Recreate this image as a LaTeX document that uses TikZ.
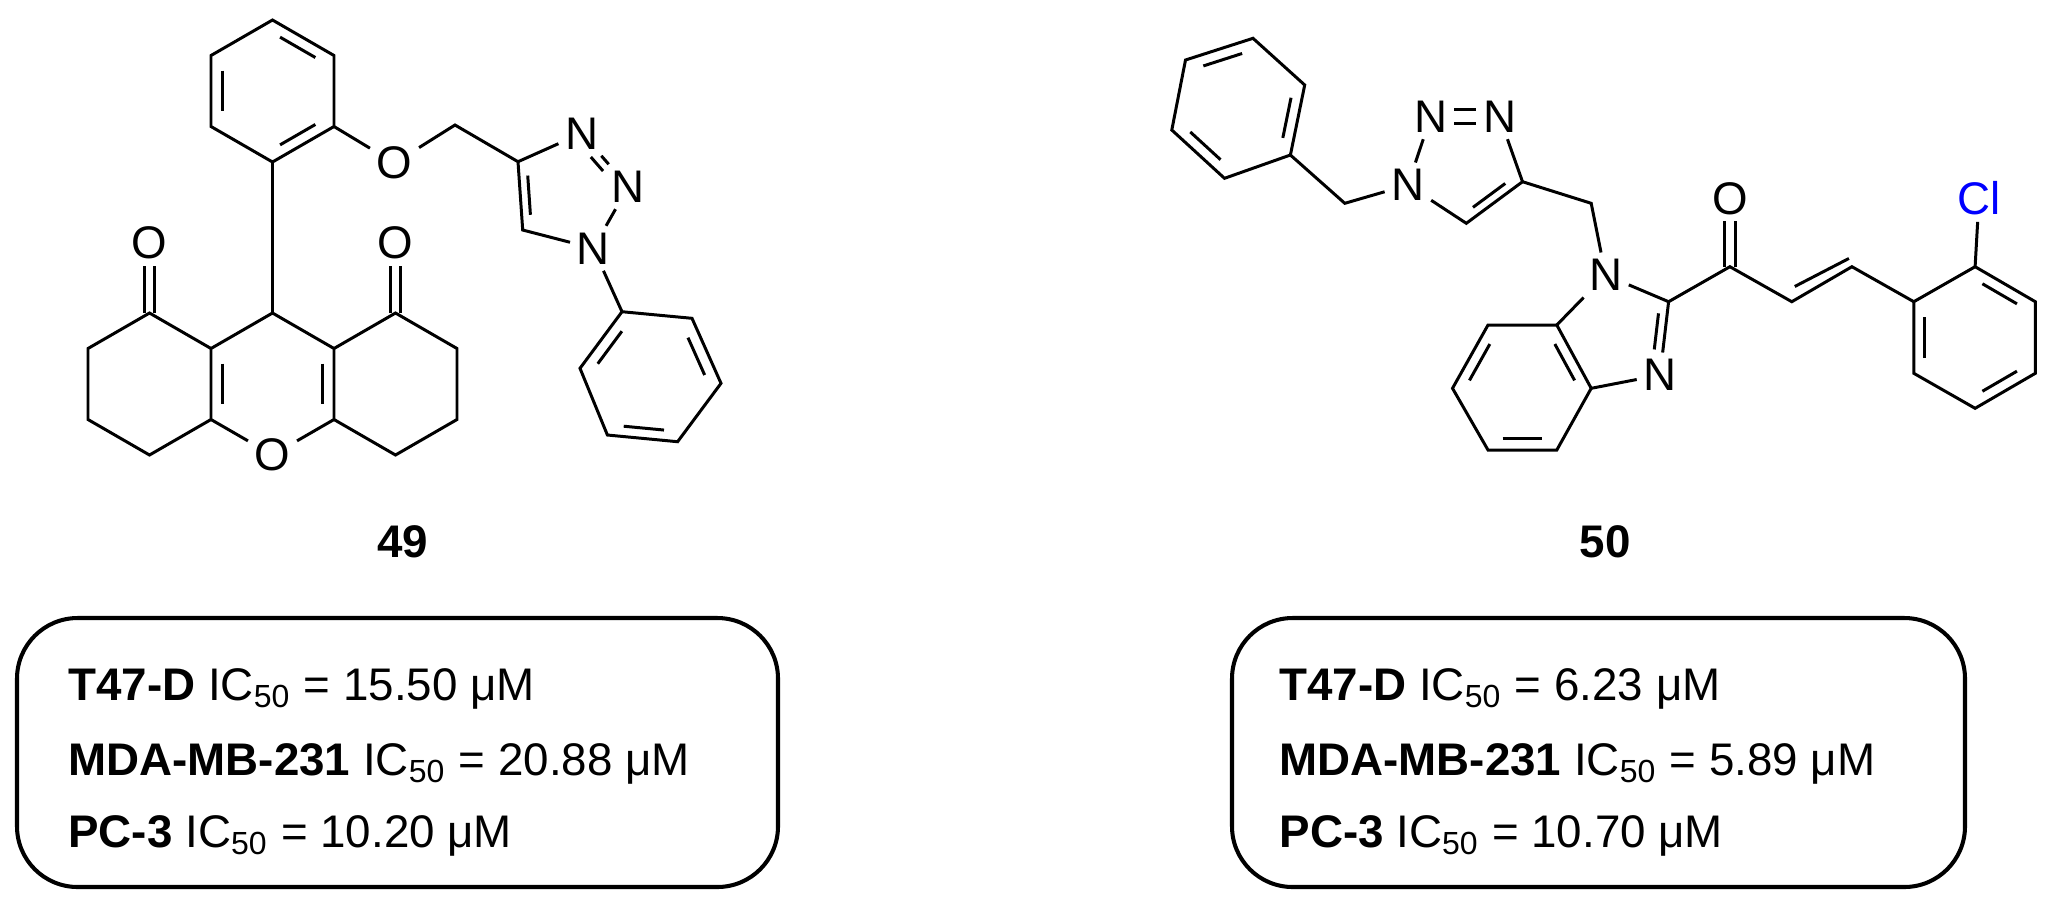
\documentclass[tikz,border=0pt]{standalone}
\usepackage{fontspec}
\setmainfont{Liberation Sans}
\usetikzlibrary{calc}
\newcommand\inbond[5]{\draw ($($(#1)!#4!(#2)$)!0.18!(#3)$) -- ($($(#1)!#5!(#2)$)!0.18!(#3)$);}
\begin{document}
\begin{tikzpicture}[x=0.01cm,y=-0.01cm,line width=0.85pt,
  atom/.style={inner sep=1.5pt,font=\fontsize{13}{15}\selectfont},
  cmpd/.style={font=\fontsize{13}{15}\selectfont\bfseries},
  row/.style={anchor=base west,inner sep=0pt,font=\fontsize{13}{15}\selectfont},
  databox/.style={line width=1.15pt,rounded corners=15\pgflinewidth}]
\useasboundingbox (0,0) rectangle (2057,902);
% ================= compound 49 =================
\coordinate (a9) at (272.5,313);
\coordinate (a9a) at (211,348.5);
\coordinate (a4a) at (211,419.5);
\node[atom] (aO) at (272.5,455) {O};
\coordinate (a10a) at (334,419.5);
\coordinate (a8a) at (334,348.5);
\coordinate (xc) at (272.5,384);
\coordinate (a1) at (149.5,313);
\coordinate (a2) at (88,348.5);
\coordinate (a3) at (88,419.5);
\coordinate (a4) at (149.5,455);
\node[atom] (aO1) at (149.5,243) {O};
\coordinate (a8) at (395.5,313);
\coordinate (a7) at (457,348.5);
\coordinate (a6) at (457,419.5);
\coordinate (a5) at (395.5,455);
\node[atom] (aO8) at (395.5,243) {O};
\coordinate (b1) at (272.5,162);
\coordinate (b2) at (211,126.5);
\coordinate (b3) at (211,55.5);
\coordinate (b4) at (272.5,20);
\coordinate (b5) at (334,55.5);
\coordinate (b6) at (334,126.5);
\coordinate (bc) at (272.5,91);
\node[atom] (aOe) at (394.5,163) {O};
\coordinate (ach2) at (455,125);
\coordinate (t4) at (518,161.7);
\node[atom] (tN3) at (581.7,133.3) {N};
\node[atom] (tN2) at (628.3,186.7) {N};
\node[atom] (tN1) at (593.3,248.3) {N};
\coordinate (t5) at (522.7,230);
\coordinate (tc) at (568.8,192);
\coordinate (p1) at (622,311.7);
\coordinate (p2) at (692,318.3);
\coordinate (p3) at (721,383.3);
\coordinate (p4) at (677.6,441.7);
\coordinate (p5) at (607.4,435);
\coordinate (p6) at (580,368.3);
\coordinate (pc) at (650,381.5);
% bonds
\draw (a9a) -- (a1) -- (a2) -- (a3) -- (a4) -- (a4a);
\draw (a9) -- (a9a) -- (a4a) -- (aO) -- (a10a) -- (a8a) -- (a9);
\draw (a8a) -- (a8) -- (a7) -- (a6) -- (a5) -- (a10a);
\inbond{a9a}{a4a}{xc}{0.15}{0.85}
\inbond{a8a}{a10a}{xc}{0.15}{0.85}
\draw ([xshift=-1.5pt]a1) -- ([xshift=-1.5pt]aO1.south);
\draw ([xshift=1.5pt]a1) -- ([xshift=1.5pt]aO1.south);
\draw ([xshift=-1.5pt]a8) -- ([xshift=-1.5pt]aO8.south);
\draw ([xshift=1.5pt]a8) -- ([xshift=1.5pt]aO8.south);
\draw (a9) -- (b1);
\draw (b1) -- (b2) -- (b3) -- (b4) -- (b5) -- (b6) -- cycle;
\inbond{b4}{b5}{bc}{0.15}{0.85}
\inbond{b3}{b2}{bc}{0.15}{0.85}
\inbond{b6}{b1}{bc}{0.15}{0.85}
\draw (b6) -- (aOe) -- (ach2) -- (t4) -- (tN3) -- (tN2) -- (tN1) -- (t5) -- (t4);
\inbond{t4}{t5}{tc}{0.15}{0.85}
\inbond{tN3}{tN2}{tc}{0.3}{0.62}
\draw (tN1) -- (p1);
\draw (p1) -- (p2) -- (p3) -- (p4) -- (p5) -- (p6) -- cycle;
\inbond{p2}{p3}{pc}{0.15}{0.85}
\inbond{p4}{p5}{pc}{0.15}{0.85}
\inbond{p6}{p1}{pc}{0.15}{0.85}
\node[cmpd] (l49) at (403,542) {49};
% ================= compound 50 =================
\coordinate (q1) at (1253,38.3);
\coordinate (q2) at (1304.7,85);
\coordinate (q3) at (1290.4,155);
\coordinate (q4) at (1224.5,178.3);
\coordinate (q5) at (1171.8,130);
\coordinate (q6) at (1185.5,60);
\coordinate (qc) at (1238.5,107.8);
\coordinate (m1) at (1344.8,203.3);
\node[atom] (uN1) at (1407.9,185) {N};
\node[atom] (uN2) at (1430.8,116.7) {N};
\node[atom] (uN3) at (1499.5,116.7) {N};
\coordinate (u4) at (1522.5,181.7);
\coordinate (u5) at (1466.3,223.3);
\coordinate (uc) at (1465,163);
\coordinate (m2) at (1591.2,203.3);
\node[atom] (iN1) at (1605.5,275) {N};
\coordinate (i2) at (1668.6,301.7);
\node[atom] (iN3) at (1660,375) {N};
\coordinate (i3a) at (1591.2,388.3);
\coordinate (i7a) at (1556.8,325);
\coordinate (ic) at (1616.4,333);
\coordinate (k1) at (1488,325);
\coordinate (k2) at (1452.5,388.3);
\coordinate (k3) at (1488,450);
\coordinate (k4) at (1556.8,450);
\coordinate (kc) at (1522.4,387.5);
\coordinate (co) at (1729.9,266.7);
\node[atom] (cO) at (1729.9,198.3) {O};
\coordinate (e1) at (1791.8,301.7);
\coordinate (e2) at (1851.9,266.7);
\coordinate (r1) at (1913.8,301.7);
\coordinate (r2) at (1975.1,266.7);
\coordinate (r3) at (2035.3,301.7);
\coordinate (r4) at (2035.3,373.3);
\coordinate (r5) at (1975.1,408.3);
\coordinate (r6) at (1913.8,373.3);
\coordinate (rc) at (1974.5,337.5);
\node[atom,text={rgb,255:red,0;green,0;blue,255}] (cl) at (1979,198.3) {Cl};
% bonds
\draw (q1) -- (q2) -- (q3) -- (q4) -- (q5) -- (q6) -- cycle;
\inbond{q6}{q1}{qc}{0.15}{0.85}
\inbond{q2}{q3}{qc}{0.15}{0.85}
\inbond{q5}{q4}{qc}{0.15}{0.85}
\draw (q3) -- (m1) -- (uN1) -- (uN2);
\draw ([yshift=2pt]uN2.east) -- ([yshift=2pt]uN3.west);
\draw ([yshift=-2pt]uN2.east) -- ([yshift=-2pt]uN3.west);
\draw (uN3) -- (u4) -- (u5) -- (uN1);
\inbond{u4}{u5}{uc}{0.15}{0.85}
\draw (u4) -- (m2) -- (iN1) -- (i2) -- (iN3) -- (i3a) -- (i7a) -- (iN1);
\inbond{i2}{iN3}{ic}{0.1}{0.7}
\draw (i7a) -- (k1) -- (k2) -- (k3) -- (k4) -- (i3a);
\inbond{i7a}{i3a}{kc}{0.15}{0.85}
\inbond{k3}{k4}{kc}{0.15}{0.85}
\inbond{k2}{k1}{kc}{0.15}{0.85}
\draw (i2) -- (co) -- (e1) -- (e2) -- (r1);
\draw ([xshift=-1.5pt]co) -- ([xshift=-1.5pt]cO.south);
\draw ([xshift=1.5pt]co) -- ([xshift=1.5pt]cO.south);
\draw ($(e1)!0.05!(e2)+(0,-13.5)$) -- ($(e1)!0.95!(e2)+(0,-10)$);
\draw (r1) -- (r2) -- (r3) -- (r4) -- (r5) -- (r6) -- cycle;
\draw (r2) -- (cl);
\inbond{r2}{r3}{rc}{0.15}{0.85}
\inbond{r4}{r5}{rc}{0.15}{0.85}
\inbond{r6}{r1}{rc}{0.15}{0.85}
\node[cmpd] (l50) at (1605,542) {50};
% ================= data boxes =================
\draw[databox] (17,618) rectangle (778,887);
\node[row] (d1) at (67,700) {\textbf{T47-D} IC\textsubscript{50} = 15.50 μM};
\node[row] (d2) at (67,775) {\textbf{MDA-MB-231} IC\textsubscript{50} = 20.88 μM};
\node[row] (d3) at (67,847) {\textbf{PC-3} IC\textsubscript{50} = 10.20 μM};
\draw[databox] (1232,618) rectangle (1965,887);
\node[row] (f1) at (1278,700) {\textbf{T47-D} IC\textsubscript{50} = 6.23 μM};
\node[row] (f2) at (1278,775) {\textbf{MDA-MB-231} IC\textsubscript{50} = 5.89 μM};
\node[row] (f3) at (1278,847) {\textbf{PC-3} IC\textsubscript{50} = 10.70 μM};
\end{tikzpicture}
\end{document}
